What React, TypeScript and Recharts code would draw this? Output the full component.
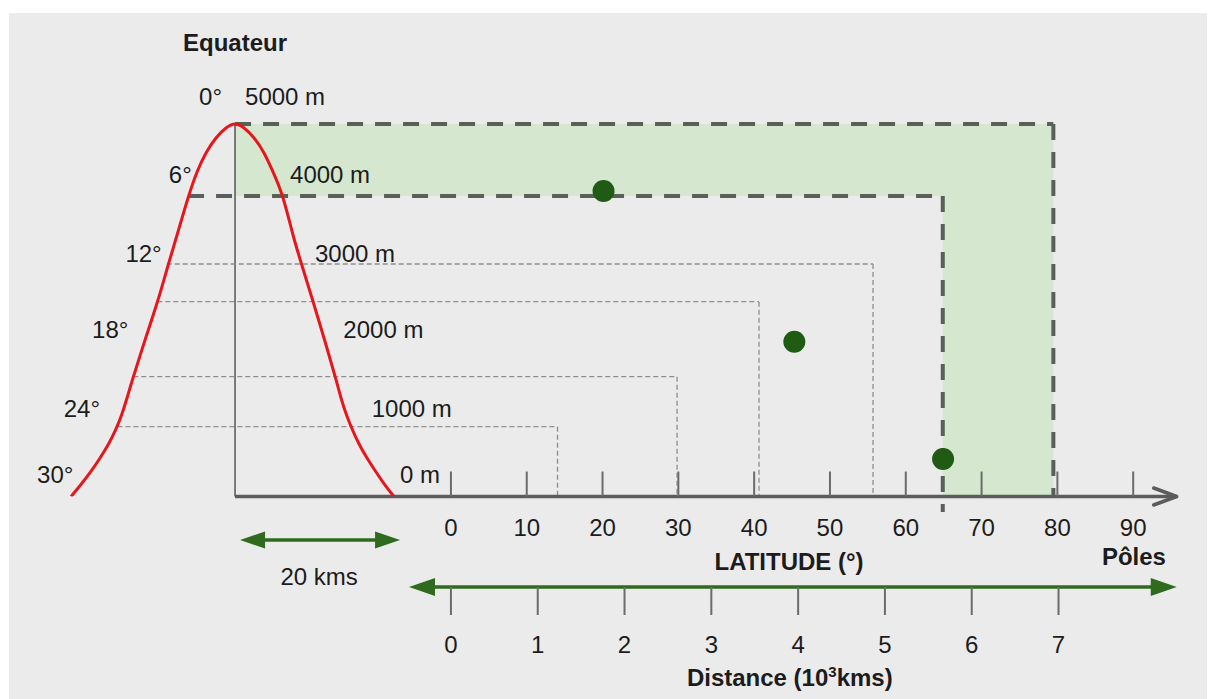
import React from 'react';
import {
  ComposedChart,
  XAxis,
  YAxis,
  Line,
  Scatter,
  ReferenceLine,
  ReferenceArea,
  ReferenceDot,
} from 'recharts';

// ---------- data (diagram units: x = latitude in degrees, y = altitude-like height in m) ----------
const latTicks = [0, 10, 20, 30, 40, 50, 60, 70, 80, 90];
const distTicks = [0, 1, 2, 3, 4, 5, 6, 7];

// red "mountain" profile (equator mountain drawn left of the latitude axis)
const mountainLat = [
  -50.11, -48.86, -47.54, -46.29, -45.17, -44.24, -43.45, -42.73, -41.94, -40.35, -38.77, -37.45, -36.13, -34.68, -33.49, -32.31, -30.99, -29.67,
  -28.48,
  -27.29, -25.97, -24.66, -23.47, -22.15, -20.83, -19.51, -18.13, -16.67, -15.22, -14.5, -13.77, -12.98, -12.12, -11.07, -9.88, -8.69, -7.51,
];
const mountainAlt = [
  0, 154, 329, 517, 705, 893, 1094, 1322, 1591, 2101, 2597, 3054, 3510, 4007, 4356, 4611, 4812, 4946,
  5000,
  4946, 4812, 4611, 4356, 4007, 3510, 3054, 2597, 2101, 1591, 1322, 1094, 893, 705, 517, 329, 154, 0,
];

// dashed level lines: horizontal from the mountain to a latitude, then down to the axis
const levelAlt = [5000, 4034, 3121, 2615, 1608, 937];
const levelFromLat = [-28.48, -34.68, -37.49, -38.73, -41.9, -44.0];
const levelToLat = [79.47, 64.88, 55.68, 40.64, 29.83, 14.06];
const levelFootAlt = [0, -208, 0, 0, 0, 0];

// green dots
const dotLat = [20.13, 45.3, 64.92];
const dotAlt = [4101, 2078, 503];

// zone labels along the mountain
const zoneLatText = ['0°', '6°', '12°', '18°', '24°', '30°'];
const zoneAltText = ['5000 m', '4000 m', '3000 m', '2000 m', '1000 m', '0 m'];
const zoneLabelAlt = [5362, 4315, 3264, 2235, 1184, 289];
const zoneLatTextLat = [-30.2, -34.19, -38.15, -42.55, -46.29, -49.81];
const zoneAltTextLat = [-27.16, -21.22, -17.93, -14.19, -10.45, -6.71];

const EQUATOR_LAT = -28.48;

// ---------- layout ----------
const CHART_W = 1209;
const CHART_H = 699;
const LAT_DOMAIN: [number, number] = [-55, 100];
const ALT_DOMAIN: [number, number] = [0, 6500];
const PX_PER_M = 0.0745;
const BASELINE = 496.5;
const LAT_AXIS_H = 90.5;
const DIST_AXIS_H = CHART_H - BASELINE - LAT_AXIS_H;
const DEG_PER_1000KM = 11.45; // as drawn
const DIST_DOMAIN: [number, number] = [LAT_DOMAIN[0] / DEG_PER_1000KM, LAT_DOMAIN[1] / DEG_PER_1000KM];
const DIST_AXIS_ALT = -LAT_AXIS_H / PX_PER_M;

const FONT = '"Liberation Sans", Arial, Helvetica, sans-serif';
const FS = 24;
const TEXT = '#1c1c1c';
const THICK = '#596059';
const THIN = '#8e8e8e';
const GREEN = '#2f6a1f';
const RED = '#e8161c';

type Head = 'none' | 'fill' | 'open';
const arrowShape = (color: string, width: number, start: Head, end: Head, len: number, half: number) => (p: any) => {
  const { x1, y1, x2, y2 } = p;
  const dx = x2 - x1;
  const dy = y2 - y1;
  const L = Math.hypot(dx, dy) || 1;
  const ux = dx / L;
  const uy = dy / L;
  const nx = -uy;
  const ny = ux;
  const head = (tx: number, ty: number, dirx: number, diry: number, kind: Head, key: string) => {
    const bx = tx - dirx * len;
    const by = ty - diry * len;
    const pts = `${bx + nx * half},${by + ny * half} ${tx},${ty} ${bx - nx * half},${by - ny * half}`;
    if (kind === 'fill') return <polygon key={key} points={pts} fill={color} />;
    return <polyline key={key} points={pts} fill="none" stroke={color} strokeWidth={width} strokeLinecap="round" strokeLinejoin="round" />;
  };
  const sx = start === 'fill' ? x1 + ux * len * 0.7 : x1;
  const sy = start === 'fill' ? y1 + uy * len * 0.7 : y1;
  const ex = end === 'fill' ? x2 - ux * len * 0.7 : x2;
  const ey = end === 'fill' ? y2 - uy * len * 0.7 : y2;
  return (
    <g>
      <line x1={sx} y1={sy} x2={ex} y2={ey} stroke={color} strokeWidth={width} />
      {start !== 'none' && head(x1, y1, -ux, -uy, start, 's')}
      {end !== 'none' && head(x2, y2, ux, uy, end, 'e')}
    </g>
  );
};

const textShape = (content: React.ReactNode, anchor: 'start' | 'middle' | 'end', bold = false) => (p: any) => (
  <text
    x={p.cx}
    y={p.cy + FS * 0.35}
    textAnchor={anchor}
    fontFamily={FONT}
    fontSize={FS}
    fontWeight={bold ? 700 : 400}
    fill={TEXT}
  >
    {content}
  </text>
);

const LatTick = (p: any) => (
  <g>
    <line x1={p.x} x2={p.x} y1={p.y - 25} y2={p.y} stroke="#6b6b6b" strokeWidth={2} />
    <text x={p.x} y={p.y + 31 + FS * 0.35} textAnchor="middle" fontFamily={FONT} fontSize={FS} fill={TEXT}>
      {p.payload.value}
    </text>
  </g>
);

const DistTick = (p: any) => (
  <g>
    <line x1={p.x} x2={p.x} y1={p.y} y2={p.y + 28} stroke="#6b6b6b" strokeWidth={2} />
    <text x={p.x} y={p.y + 58 + FS * 0.35} textAnchor="middle" fontFamily={FONT} fontSize={FS} fill={TEXT}>
      {p.payload.value}
    </text>
  </g>
);

export default function App() {
  const curve = mountainLat.map((x, i) => ({ x, y: mountainAlt[i] }));
  const dots = dotLat.map((x, i) => ({ x, y: dotAlt[i] }));
  const distAnchors = distTicks.map((x) => ({ x, y: 0 }));

  return (
    <div style={{ position: 'absolute', left: 0, top: 0, width: CHART_W, height: CHART_H, background: '#ffffff', overflow: 'hidden' }}>
      <div style={{ position: 'absolute', left: 9, top: 13, width: 1198, height: 686, background: '#ebebeb' }} />
      <div style={{ position: 'absolute', left: 0, top: 0 }}>
        <ComposedChart
          width={CHART_W}
          height={CHART_H}
          margin={{ top: BASELINE - ALT_DOMAIN[1] * PX_PER_M, right: 0, bottom: 0, left: 34 }}
        >
          <XAxis
            xAxisId={0}
            type="number"
            dataKey="x"
            domain={LAT_DOMAIN}
            allowDataOverflow
            ticks={latTicks}
            interval={0}
            height={LAT_AXIS_H}
            axisLine={false}
            tickLine={false}
            tickSize={0}
            tickMargin={0}
            tick={(p: any) => <LatTick {...p} />}
          />
          <XAxis
            xAxisId={1}
            type="number"
            dataKey="x"
            domain={DIST_DOMAIN}
            allowDataOverflow
            ticks={distTicks}
            interval={0}
            height={DIST_AXIS_H}
            axisLine={false}
            tickLine={false}
            tickSize={0}
            tickMargin={0}
            tick={(p: any) => <DistTick {...p} />}
          />
          <YAxis type="number" dataKey="y" domain={ALT_DOMAIN} allowDataOverflow hide />

          {/* green zone */}
          <ReferenceArea
            x1={levelFromLat[0]}
            x2={levelToLat[0]}
            y1={levelAlt[1]}
            y2={levelAlt[0]}
            ifOverflow="visible"
            fill="#d5e7cf"
            fillOpacity={1}
            stroke="none"
          />
          <ReferenceArea
            x1={levelToLat[1]}
            x2={levelToLat[0]}
            y1={0}
            y2={levelAlt[1]}
            ifOverflow="visible"
            fill="#d5e7cf"
            fillOpacity={1}
            stroke="none"
          />

          {/* equator vertical */}
          <ReferenceLine
            segment={[{ x: EQUATOR_LAT, y: 0 }, { x: EQUATOR_LAT, y: 5000 }]}
            ifOverflow="visible"
            stroke="#555555"
            strokeWidth={1.5}
          />

          {/* level lines */}
          {levelAlt.map((alt, i) => (
            <ReferenceLine
              key={'h' + i}
              segment={[{ x: levelFromLat[i], y: alt }, { x: levelToLat[i], y: alt }]}
              ifOverflow="visible"
              stroke={i < 2 ? THICK : THIN}
              strokeWidth={i < 2 ? 4 : 1.3}
              strokeDasharray={i < 2 ? '16 12' : '5 3'}
            />
          ))}
          {levelAlt.map((alt, i) => (
            <ReferenceLine
              key={'v' + i}
              segment={[{ x: levelToLat[i], y: alt }, { x: levelToLat[i], y: levelFootAlt[i] }]}
              ifOverflow="visible"
              stroke={i < 2 ? THICK : THIN}
              strokeWidth={i < 2 ? 4 : 1.3}
              strokeDasharray={i < 2 ? '16 12' : '5 3'}
            />
          ))}

          {/* latitude axis line with open arrow */}
          <ReferenceLine
            segment={[{ x: EQUATOR_LAT, y: 0 }, { x: 95.74, y: 0 }]}
            ifOverflow="visible"
            shape={arrowShape('#5c5c5c', 3.5, 'none', 'open', 23, 8.5)}
          />

          <Line
            data={curve}
            dataKey="y"
            type="natural"
            stroke={RED}
            strokeWidth={3}
            dot={false}
            activeDot={false}
            isAnimationActive={false}
          />

          <Scatter
            data={dots}
            dataKey="y"
            isAnimationActive={false}
            shape={(p: any) => <circle cx={p.cx} cy={p.cy} r={11} fill="#1f5b12" />}
          />

          {/* invisible anchors binding the distance axis */}
          <Scatter
            xAxisId={1}
            data={distAnchors}
            dataKey="y"
            isAnimationActive={false}
            shape={() => <g />}
          />

          {/* 20 kms arrow */}
          <ReferenceLine
            segment={[{ x: -27.82, y: -584 }, { x: -6.71, y: -584 }]}
            ifOverflow="visible"
            shape={arrowShape(GREEN, 3.5, 'fill', 'fill', 25, 8.5)}
          />

          {/* distance arrow */}
          <ReferenceLine
            xAxisId={1}
            segment={[{ x: -0.483, y: DIST_AXIS_ALT }, { x: 8.362, y: DIST_AXIS_ALT }]}
            ifOverflow="visible"
            shape={arrowShape(GREEN, 3.5, 'fill', 'fill', 26, 9)}
          />

          {/* zone labels */}
          {zoneLatText.map((t, i) => (
            <ReferenceDot key={'zl' + i} x={zoneLatTextLat[i]} y={zoneLabelAlt[i]} ifOverflow="visible" shape={textShape(t, 'end')} />
          ))}
          {zoneAltText.map((t, i) => (
            <ReferenceDot key={'za' + i} x={zoneAltTextLat[i]} y={zoneLabelAlt[i]} ifOverflow="visible" shape={textShape(t, 'start')} />
          ))}

          {/* titles */}
          <ReferenceDot x={EQUATOR_LAT} y={6087} ifOverflow="visible" shape={textShape('Equateur', 'middle', true)} />
          <ReferenceDot x={44.6} y={-879} ifOverflow="visible" shape={textShape('LATITUDE (°)', 'middle', true)} />
          <ReferenceDot x={90.1} y={-812} ifOverflow="visible" shape={textShape('Pôles', 'middle', true)} />
          <ReferenceDot x={-17.39} y={-1081} ifOverflow="visible" shape={textShape('20 kms', 'middle')} />
          <ReferenceDot
            x={44.7}
            y={-2436}
            ifOverflow="visible"
            shape={textShape(
              <>
                Distance (10<tspan dy={-9} fontSize={15}>3</tspan>
                <tspan dy={9}>kms)</tspan>
              </>,
              'middle',
              true
            )}
          />
        </ComposedChart>
      </div>
    </div>
  );
}
